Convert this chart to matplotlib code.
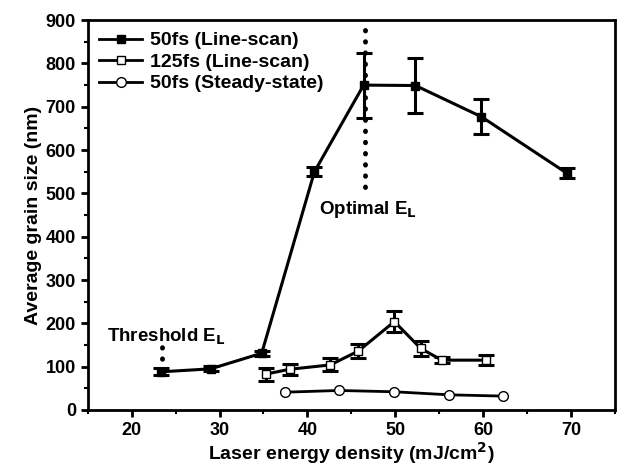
import matplotlib
matplotlib.use('Agg')
from matplotlib import pyplot as plt
from matplotlib.lines import Line2D
from matplotlib.ticker import MultipleLocator

plt.rcParams['font.family'] = ['Liberation Sans', 'DejaVu Sans']
plt.rcParams['font.weight'] = 'bold'

# 50fs line-scan
x_ls50 = [23.3, 29.0, 34.8, 40.8, 46.4, 52.3, 59.8, 69.5]
y_ls50 = [88, 95, 131, 550, 750, 749, 677, 547]
e_ls50 = [8, 6, 6, 10, 75, 63, 40, 12]

# 125fs line-scan
x_ls125 = [35.3, 38.0, 42.6, 45.8, 49.9, 52.9, 55.3, 60.3]
y_ls125 = [83, 94, 104, 136, 204, 142, 115, 115]
e_ls125 = [15, 13, 15, 16, 24, 17, 7, 12]

# 50fs steady-state
x_ss50 = [37.4, 43.6, 49.9, 56.1, 62.3]
y_ss50 = [41, 45, 42, 35, 32]

labels = ['50fs (Line-scan)', '125fs (Line-scan)', '50fs (Steady-state)']

fig = plt.figure(figsize=(6.18, 4.68), dpi=100)
ax = fig.add_axes([0.142, 0.124, 0.853, 0.833])

ax.errorbar(x_ls50, y_ls50, yerr=e_ls50, color='black', lw=2.2, marker='s', ms=6,
            mfc='black', capsize=6, capthick=2.2, elinewidth=2.2)
ax.errorbar(x_ls125, y_ls125, yerr=e_ls125, color='black', lw=2.2, marker='s', ms=6,
            mfc='white', capsize=6, capthick=2.2, elinewidth=2.2)
ax.plot(x_ss50, y_ss50, color='black', lw=2, marker='o', ms=7, mfc='white')

# dotted markers for threshold and optimal energy
dots = dict(color='black', lw=3.5, ls=(0, (0.1, 2.2)), dash_capstyle='round')
ax.plot([23.4, 23.4], [92, 152], **dots)
ax.plot([46.5, 46.5], [515, 878], **dots)
ax.text(17.2, 168, 'Threshold E$_\\mathbf{L}$', fontsize=13.5, fontweight='bold', va='center')
ax.text(41.3, 462, 'Optimal E$_\\mathbf{L}$', fontsize=13.5, fontweight='bold', va='center')

ax.set_xlim(15, 75)
ax.set_ylim(0, 900)
ax.xaxis.set_major_locator(MultipleLocator(10))
ax.xaxis.set_minor_locator(MultipleLocator(5))
ax.yaxis.set_major_locator(MultipleLocator(100))
ax.yaxis.set_minor_locator(MultipleLocator(50))
ax.tick_params(which='major', direction='out', length=5, width=2, labelsize=13)
ax.tick_params(which='minor', direction='out', length=3, width=1.5)
for s in ax.spines.values():
    s.set_linewidth(2)

ax.set_xlabel('Laser energy density (mJ/cm$^\\mathbf{2}$)', fontsize=14, fontweight='bold', labelpad=1)
ax.set_ylabel('Average grain size (nm)', fontsize=14, fontweight='bold', labelpad=3)

handles = [
    Line2D([], [], color='black', lw=2, marker='s', ms=6, mfc='black'),
    Line2D([], [], color='black', lw=2, marker='s', ms=6, mfc='white'),
    Line2D([], [], color='black', lw=2, marker='o', ms=7, mfc='white'),
]
ax.legend(handles, labels, loc='upper left', frameon=False, fontsize=14, handlelength=2.2,
          borderaxespad=0.2, labelspacing=0.2, handletextpad=0.4)

fig.savefig('out.png', dpi=100)
